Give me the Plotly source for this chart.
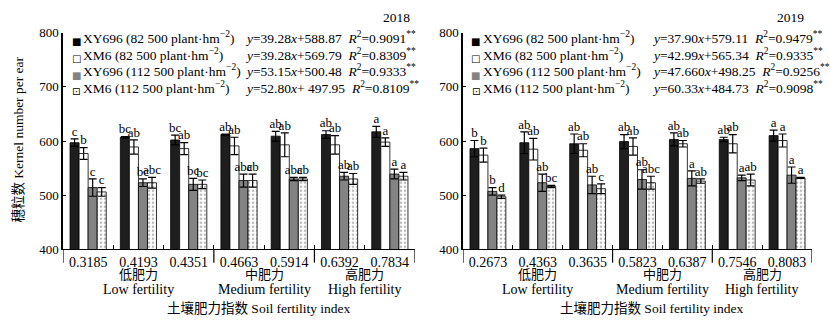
import plotly.graph_objects as go

W, H = 831, 326
FONT = "Liberation Serif, Times New Roman, Noto Sans CJK SC, serif"

series_names = [
    "XY696 (82 500 plant·hm<sup>−2</sup>)",
    "XM6 (82 500 plant·hm<sup>−2</sup>)",
    "XY696 (112 500 plant·hm<sup>−2</sup>)",
    "XM6 (112 500 plant·hm<sup>−2</sup>)",
]
legend_symbols = ["■", "□", "<span style='color:#838383'>■</span>", "⊡"]

idx_2018 = ["0.3185", "0.4193", "0.4351", "0.4663", "0.5914", "0.6392", "0.7834"]
idx_2019 = ["0.2673", "0.4363", "0.3635", "0.5823", "0.6387", "0.7546", "0.8083"]

# 2018 values
v18_xy82 = [597, 607, 602, 612, 609, 612, 617]
v18_xm82 = [577, 589, 586, 591, 593, 593, 598]
v18_xy112 = [514, 523, 520, 527, 530, 535, 539]
v18_xm112 = [506, 523, 520, 527, 530, 530, 535]
e18_xy82 = [7, 1, 9, 1, 9, 7, 10]
e18_xm82 = [11, 13, 11, 16, 22, 17, 8]
e18_xy112 = [16, 7, 11, 12, 3, 7, 9]
e18_xm112 = [8, 10, 8, 12, 3, 10, 7]
l18_xy82 = ["c", "bc", "bc", "ab", "ab", "ab", "a"]
l18_xm82 = ["b", "ab", "ab", "ab", "ab", "ab", "a"]
l18_xy112 = ["c", "bc", "bc", "abc", "abc", "ab", "a"]
l18_xm112 = ["c", "abc", "bc", "ab", "ab", "ab", "a"]

# 2019 values
v19_xy82 = [586, 597, 595, 599, 603, 603, 610]
v19_xm82 = [574, 585, 583, 590, 595, 595, 601]
v19_xy112 = [507, 523, 519, 529, 531, 532, 537]
v19_xm112 = [497, 516, 512, 523, 526, 528, 532]
e19_xy82 = [15, 20, 18, 13, 12, 4, 10]
e19_xm82 = [13, 20, 12, 16, 6, 17, 12]
e19_xy112 = [7, 16, 16, 18, 14, 5, 15]
e19_xm112 = [3, 2, 9, 12, 4, 11, 1]
l19_xy82 = ["b", "ab", "ab", "ab", "ab", "ab", "a"]
l19_xm82 = ["b", "ab", "ab", "ab", "ab", "ab", "a"]
l19_xy112 = ["b", "ab", "ab", "ab", "a", "a", "a"]
l19_xm112 = ["d", "bc", "c", "abc", "ab", "ab", "a"]

eq_2018 = [
    "<i>y</i>=39.28<i>x</i>+588.87  <i>R</i><sup>2</sup>=0.9091<sup>**</sup>",
    "<i>y</i>=39.28<i>x</i>+569.79  <i>R</i><sup>2</sup>=0.8309<sup>**</sup>",
    "<i>y</i>=53.15<i>x</i>+500.48  <i>R</i><sup>2</sup>=0.9333<sup>**</sup>",
    "<i>y</i>=52.80<i>x</i>+ 497.95  <i>R</i><sup>2</sup>=0.8109<sup>**</sup>",
]
eq_2019 = [
    "<i>y</i>=37.90<i>x</i>+579.11  <i>R</i><sup>2</sup>=0.9479<sup>**</sup>",
    "<i>y</i>=42.99<i>x</i>+565.34  <i>R</i><sup>2</sup>=0.9335<sup>**</sup>",
    "<i>y</i>=47.660<i>x</i>+498.25  <i>R</i><sup>2</sup>=0.9256<sup>**</sup>",
    "<i>y</i>=60.33<i>x</i>+484.73  <i>R</i><sup>2</sup>=0.9098<sup>**</sup>",
]

fills = ["#1e1e1e", "white", "#838383", "white"]
patterns = [None, None, None, dict(shape=".", fgcolor="#777777", bgcolor="white", size=4, solidity=0.35)]
offsets = [-0.27, -0.09, 0.09, 0.27]
bw = 0.18

fig = go.Figure()

panels = [
    ("x", "y", [v18_xy82, v18_xm82, v18_xy112, v18_xm112],
     [e18_xy82, e18_xm82, e18_xy112, e18_xm112],
     [l18_xy82, l18_xm82, l18_xy112, l18_xm112]),
    ("x2", "y2", [v19_xy82, v19_xm82, v19_xy112, v19_xm112],
     [e19_xy82, e19_xm82, e19_xy112, e19_xm112],
     [l19_xy82, l19_xm82, l19_xy112, l19_xm112]),
]

pos = list(range(7))
for xa, ya, vals, errs, letters in panels:
    for s in range(4):
        xs = [p + offsets[s] for p in pos]
        mk = dict(color=fills[s], line=dict(color="black", width=0.8))
        if patterns[s]:
            mk["pattern"] = patterns[s]
        fig.add_trace(go.Bar(
            x=xs, y=vals[s], width=bw, name=series_names[s], marker=mk,
            error_y=dict(type="data", array=errs[s], color="black", thickness=1.2, width=4),
            xaxis=xa, yaxis=ya, showlegend=False,
        ))
        tops = [v + e for v, e in zip(vals[s], errs[s])]
        fig.add_trace(go.Scatter(
            x=xs, y=tops, mode="text", text=letters[s], textposition="top center",
            textfont=dict(family=FONT, size=13, color="black"),
            xaxis=xa, yaxis=ya, showlegend=False, cliponaxis=False, hoverinfo="skip",
        ))

yb, yt = 72 / H, 299 / H
dom1 = [63 / W, 415 / W]
dom2 = [463 / W, 812 / W]

xcommon = dict(range=[-0.5, 6.5], tickmode="array", tickvals=pos, ticks="",
               showline=True, linecolor="black", linewidth=1, showgrid=False, zeroline=False,
               tickfont=dict(family=FONT, size=14, color="black"),
               minor=dict(tickvals=[0.5, 1.5, 2.5, 3.5, 4.5, 5.5], ticks="inside", ticklen=4,
                          tickcolor="black", showgrid=False))
ycommon = dict(range=[400, 800], tickvals=[400, 500, 600, 700, 800], ticks="inside", ticklen=3,
               tickcolor="black", showline=True, linecolor="black", linewidth=1.5,
               showgrid=False, zeroline=False, tickfont=dict(family=FONT, size=13, color="black"))

fig.update_layout(
    width=W, height=H, margin=dict(l=0, r=0, t=0, b=0),
    paper_bgcolor="white", plot_bgcolor="white", barmode="overlay",
    font=dict(family=FONT, size=13, color="black"),
    xaxis=dict(domain=dom1, ticktext=idx_2018, anchor="y", **xcommon),
    xaxis2=dict(domain=dom2, ticktext=idx_2019, anchor="y2", **xcommon),
    yaxis=dict(domain=[yb, yt], anchor="x", **ycommon),
    yaxis2=dict(domain=[yb, yt], anchor="x2", **ycommon),
    showlegend=False,
)

shapes = []
for xr in ["x", "x2"]:
    for b in [-0.5, 2.5, 4.5, 6.5]:
        shapes.append(dict(type="line", xref=xr, yref="paper", x0=b, x1=b, y0=yb, y1=(H - 268) / H,
                           line=dict(color="black", width=1.2)))
fig.update_layout(shapes=shapes)

ann = []
row_y = [36, 53.5, 71, 88.5]
sup_shift = -4
for i in range(4):
    ry = row_y[i]
    for sx, tx, ex, eqs in [(76, 81, 243, eq_2018), (476, 481, 650, eq_2019)]:
        ann.append(dict(xref="paper", yref="paper", x=sx / W, y=1 - (ry + 0.5) / H, xanchor="center",
                        yanchor="middle", text=legend_symbols[i], showarrow=False,
                        font=dict(family="DejaVu Sans", size=10, color="black")))
        ann.append(dict(xref="paper", yref="paper", x=tx / W, y=1 - (ry + sup_shift) / H, xanchor="left",
                        yanchor="middle", text=series_names[i], showarrow=False,
                        font=dict(family=FONT, size=13.5)))
        ann.append(dict(xref="paper", yref="paper", x=ex / W, y=1 - (ry + sup_shift) / H, xanchor="left",
                        yanchor="middle", text=eqs[i], showarrow=False,
                        font=dict(family=FONT, size=13.5)))
ann.append(dict(xref="paper", yref="paper", x=412 / W, y=1 - 11 / H, xanchor="right", yanchor="middle",
                text="2018", showarrow=False, font=dict(family=FONT, size=13.5)))
ann.append(dict(xref="paper", yref="paper", x=806 / W, y=1 - 11 / H, xanchor="right", yanchor="middle",
                text="2019", showarrow=False, font=dict(family=FONT, size=13.5)))

groups = [(1, "低肥力", "Low fertility"), (3.5, "中肥力", "Medium fertility"), (5.5, "高肥力", "High fertility")]
for xr in ["x", "x2"]:
    for gx, cn, en in groups:
        ann.append(dict(xref=xr, yref="paper", x=gx, y=1 - 280 / H, text=cn, showarrow=False,
                        xanchor="center", yanchor="middle", font=dict(family=FONT, size=13)))
        ann.append(dict(xref=xr, yref="paper", x=gx, y=1 - 296 / H, text=en, showarrow=False,
                        xanchor="center", yanchor="middle", font=dict(family=FONT, size=14)))
ann.append(dict(xref="paper", yref="paper", x=259 / W, y=1 - 315 / H, text="土壤肥力指数 Soil fertility index",
                showarrow=False, xanchor="center", yanchor="middle", font=dict(family=FONT, size=13.5)))
ann.append(dict(xref="paper", yref="paper", x=652 / W, y=1 - 315 / H, text="土壤肥力指数 Soil fertility index",
                showarrow=False, xanchor="center", yanchor="middle", font=dict(family=FONT, size=13.5)))
ann.append(dict(xref="paper", yref="paper", x=19 / W, y=1 - 139 / H, text="穗粒数 Kernel number per ear",
                showarrow=False, textangle=-90, xanchor="center", yanchor="middle",
                font=dict(family=FONT, size=13.5)))
fig.update_layout(annotations=ann)

fig.write_html("out.html")
